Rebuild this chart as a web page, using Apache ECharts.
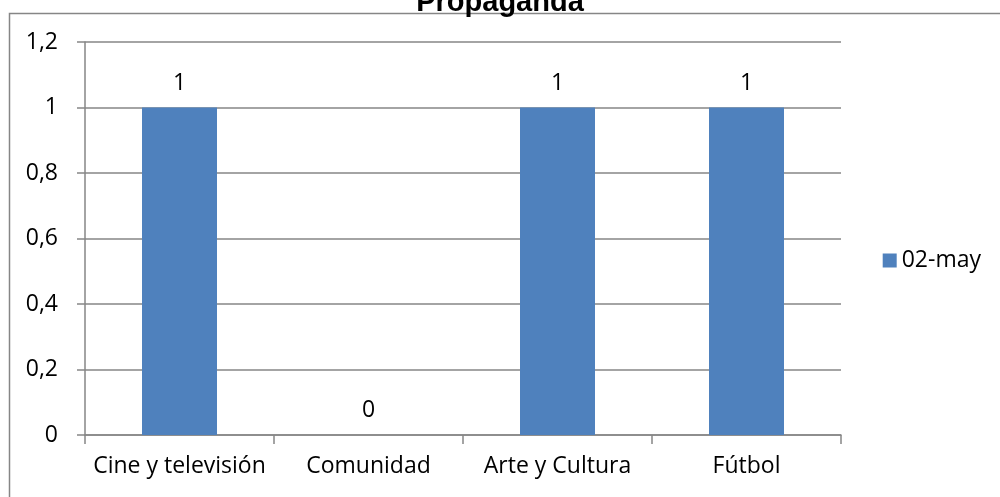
<!DOCTYPE html>
<html>
<head>
<meta charset="utf-8">
<script src="https://cdn.jsdelivr.net/npm/echarts@6/dist/echarts.min.js"></script>
<style>
  html, body { margin: 0; padding: 0; background: #fff; }
  #chart { width: 1000px; height: 497px; }
</style>
</head>
<body>
<div id="chart"></div>
<script>
const categories = ['Cine y televisión', 'Comunidad', 'Arte y Cultura', 'Fútbol']
const values = [1, 0, 1, 1]
const seriesName = '02-may'
const titleText = 'Propaganda'

const chart = echarts.init(document.getElementById('chart'))
const font = 'Open Sans'

const option = {
  animation: false,
  title: {
    text: titleText,
    left: 'center',
    top: -17,
    textStyle: { fontFamily: 'Liberation Sans', fontWeight: 'bold', fontSize: 29, color: '#000' }
  },
  graphic: [
    {
      type: 'rect',
      shape: { x: 9.5, y: 13.5, width: 1000, height: 500 },
      style: { fill: 'none', stroke: '#868686', lineWidth: 1.5 },
      silent: true
    }
  ],
  legend: {
    right: 14,
    top: 244,
    itemWidth: 14,
    itemHeight: 14,
    itemGap: 8,
    icon: 'rect',
    textStyle: { fontFamily: font, fontSize: 23, color: '#000' },
    data: [seriesName]
  },
  grid: { left: 85, right: 159, top: 42, bottom: 62 },
  xAxis: {
    type: 'category',
    data: categories,
    axisLine: { lineStyle: { color: '#868686', width: 1.5 } },
    axisTick: { show: true, interval: 0, length: 9, lineStyle: { color: '#868686', width: 1.5 } },
    axisLabel: { interval: 0, hideOverlap: false, fontFamily: font, fontSize: 23, color: '#000', margin: 20 }
  },
  yAxis: {
    type: 'value',
    min: 0,
    max: 1.2,
    interval: 0.2,
    axisLine: { show: true, lineStyle: { color: '#868686', width: 1.5 } },
    axisTick: { show: true, length: 8, lineStyle: { color: '#868686', width: 1.5 } },
    splitLine: { lineStyle: { color: '#868686', width: 1.5 } },
    axisLabel: {
      fontFamily: font,
      fontSize: 23,
      color: '#000',
      margin: 27,
      formatter: v => String(Math.round(v * 10) / 10).replace('.', ',')
    }
  },
  series: [
    {
      name: seriesName,
      type: 'bar',
      data: values,
      barWidth: 75,
      itemStyle: { color: '#4F81BD' },
      label: {
        show: true,
        position: 'top',
        distance: 13,
        fontFamily: font,
        fontSize: 23,
        color: '#000'
      }
    }
  ]
}

chart.setOption(option)
</script>
</body>
</html>
